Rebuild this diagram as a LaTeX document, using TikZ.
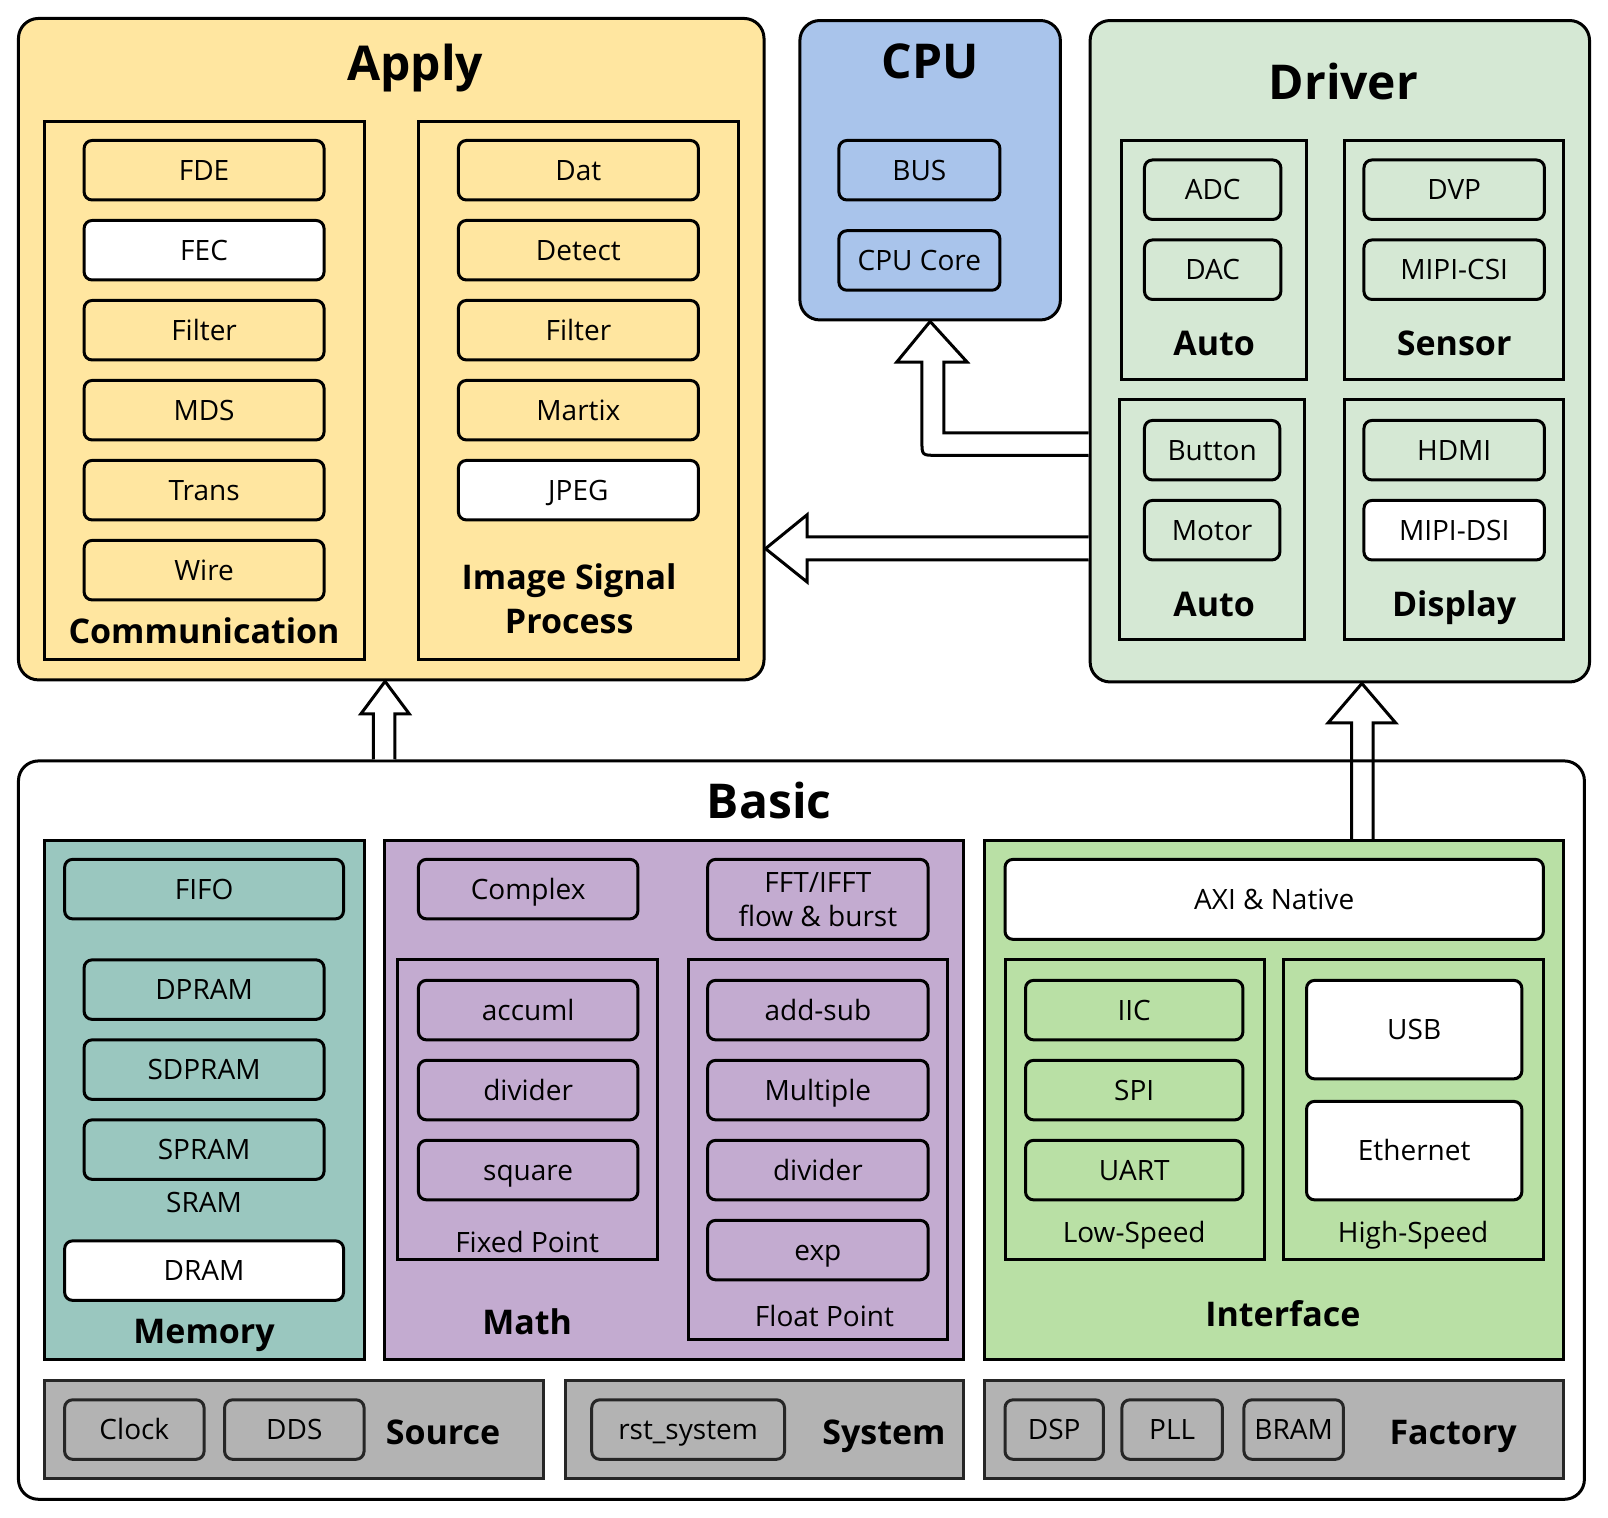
\documentclass[tikz,border=0pt]{standalone}
\usepackage{fontspec}
\setmainfont{Open Sans}
\usetikzlibrary{fit}
\definecolor{cY}{HTML}{FFE6A0}
\definecolor{cB}{HTML}{A9C4EB}
\definecolor{cG}{HTML}{D5E8D4}
\definecolor{cT}{HTML}{9AC7BF}
\definecolor{cP}{HTML}{C3ABD0}
\definecolor{cL}{HTML}{B9E0A5}
\definecolor{cS}{HTML}{B3B3B3}
\tikzset{
  base/.style={draw=black, line width=1.5pt, inner sep=0pt},
  outer/.style={base, rounded corners=10pt},
  grp/.style={base, sharp corners},
  sbox/.style={base, rounded corners=4pt},
  ttl/.style={font=\fontsize{24}{28}\selectfont\bfseries, inner sep=0pt, text height=17pt, text depth=0pt},
  sec/.style={font=\fontsize{17}{22}\selectfont\bfseries, align=center, inner sep=0pt, text height=12pt, text depth=0pt},
  secm/.style={font=\fontsize{17}{22}\selectfont\bfseries, align=center},
  lbl/.style={font=\fontsize{14}{17}\selectfont, align=center, inner sep=0pt, text height=10pt, text depth=0pt},
  lblm/.style={font=\fontsize{14}{17}\selectfont, align=center, inner sep=0pt},
  harrow/.style={draw=black, line width=1.5pt, fill=white, line join=miter},
}
\newcommand\BX[7]{\node[#1, fit={(#3,#4)(#5,#6)}] (#2) {};
  \node[lbl] (#2-t) at (#2.center) {#7};}
\begin{document}
\begin{tikzpicture}[x=0.51276pt,y=-0.51276pt]
\useasboundingbox (0,0) rectangle (1568,1480);
% ---------------- Apply
\BX{outer,fill=cY}{apply}{18}{18}{745}{663}{}
\node[ttl] (applyT) at (405,62) {Apply};
\BX{grp}{comm}{43}{118}{355}{643}{}
\BX{sbox,fill=cY}{fde}{82}{137}{316}{195}{FDE}
\BX{sbox,fill=white}{fec}{82}{215}{316}{273}{FEC}
\BX{sbox,fill=cY}{filtA}{82}{293}{316}{351}{Filter}
\BX{sbox,fill=cY}{mds}{82}{371}{316}{429}{MDS}
\BX{sbox,fill=cY}{trans}{82}{449}{316}{507}{Trans}
\BX{sbox,fill=cY}{wire}{82}{527}{316}{585}{Wire}
\node[sec] (commL) at (199,616) {Communication};
\BX{grp}{isp}{408}{118}{720}{643}{}
\BX{sbox,fill=cY}{dat}{447}{137}{681}{195}{Dat}
\BX{sbox,fill=cY}{detect}{447}{215}{681}{273}{Detect}
\BX{sbox,fill=cY}{filtB}{447}{293}{681}{351}{Filter}
\BX{sbox,fill=cY}{martix}{447}{371}{681}{429}{Martix}
\BX{sbox,fill=white}{jpeg}{447}{449}{681}{507}{JPEG}
\node[secm] (ispL) at (555,584) {Image Signal\\Process};
% ---------------- CPU
\BX{outer,fill=cB}{cpu}{780}{20}{1034}{312}{}
\node[ttl] (cpuT) at (907,60) {CPU};
\BX{sbox,fill=cB}{bus}{818}{137}{975}{195}{BUS}
\BX{sbox,fill=cB}{core}{818}{225}{975}{283}{CPU Core}
% ---------------- Driver
\BX{outer,fill=cG}{driver}{1063}{20}{1550}{665}{}
\node[ttl] (driverT) at (1310,80) {Driver};
\BX{grp}{autoA}{1094}{137}{1274}{370}{}
\BX{sbox,fill=cG}{adc}{1116}{156}{1249}{214}{ADC}
\BX{sbox,fill=cG}{dac}{1116}{234}{1249}{292}{DAC}
\node[sec] (autoAL) at (1184,335) {Auto};
\BX{grp}{sensor}{1311}{137}{1525}{370}{}
\BX{sbox,fill=cG}{dvp}{1330}{156}{1506}{214}{DVP}
\BX{sbox,fill=cG}{csi}{1330}{234}{1506}{292}{MIPI-CSI}
\node[sec] (sensorL) at (1418,335) {Sensor};
\BX{grp}{autoB}{1092}{390}{1272}{624}{}
\BX{sbox,fill=cG}{button}{1116}{410}{1248}{468}{Button}
\BX{sbox,fill=cG}{motor}{1116}{488}{1248}{546}{Motor}
\node[sec] (autoBL) at (1184,589) {Auto};
\BX{grp}{display}{1311}{390}{1525}{624}{}
\BX{sbox,fill=cG}{hdmi}{1330}{410}{1506}{468}{HDMI}
\BX{sbox,fill=white}{dsi}{1330}{488}{1506}{546}{MIPI-DSI}
\node[sec] (displayL) at (1418,589) {Display};
% ---------------- Basic
\BX{outer,fill=white}{basic}{18}{742}{1545}{1462}{}
\node[ttl] (basicT) at (750,782) {Basic};
% Memory
\BX{grp,fill=cT}{memory}{43}{820}{355}{1326}{}
\BX{sbox,fill=cT}{fifo}{63}{838}{335}{896}{FIFO}
\BX{sbox,fill=cT}{dpram}{82}{936}{316}{994}{DPRAM}
\BX{sbox,fill=cT}{sdpram}{82}{1014}{316}{1072}{SDPRAM}
\BX{sbox,fill=cT}{spram}{82}{1092}{316}{1150}{SPRAM}
\node[lbl] (sramL) at (199,1173) {SRAM};
\BX{sbox,fill=white}{dram}{63}{1210}{335}{1268}{DRAM}
\node[sec] (memL) at (199,1298) {Memory};
% Math
\BX{grp,fill=cP}{math}{375}{820}{940}{1326}{}
\BX{sbox,fill=cP}{complex}{408}{838}{622}{896}{Complex}
\node[sbox,fill=cP, fit={(690,838)(905,916)}] (fft) {};
\node[lblm] (fft-t) at (fft.center) {FFT/IFFT\\flow \& burst};
\BX{grp}{fixed}{388}{936}{641}{1228}{}
\BX{sbox,fill=cP}{accuml}{408}{956}{622}{1014}{accuml}
\BX{sbox,fill=cP}{divA}{408}{1034}{622}{1092}{divider}
\BX{sbox,fill=cP}{square}{408}{1112}{622}{1170}{square}
\node[lbl] (fixedL) at (514,1212) {Fixed Point};
\BX{grp}{float}{671}{936}{924}{1306}{}
\BX{sbox,fill=cP}{addsub}{690}{956}{905}{1014}{add-sub}
\BX{sbox,fill=cP}{mult}{690}{1034}{905}{1092}{Multiple}
\BX{sbox,fill=cP}{divB}{690}{1112}{905}{1170}{divider}
\BX{sbox,fill=cP}{exp}{690}{1190}{905}{1248}{exp}
\node[lbl] (floatL) at (804,1284) {Float Point};
\node[sec] (mathL) at (514,1290) {Math};
% Interface
\BX{grp,fill=cL}{iface}{960}{820}{1525}{1326}{}
\BX{sbox,fill=white}{axi}{980}{838}{1505}{916}{AXI \& Native}
\BX{grp}{low}{980}{936}{1233}{1228}{}
\BX{sbox,fill=cL}{iic}{1000}{956}{1212}{1014}{IIC}
\BX{sbox,fill=cL}{spi}{1000}{1034}{1212}{1092}{SPI}
\BX{sbox,fill=cL}{uart}{1000}{1112}{1212}{1170}{UART}
\node[lbl] (lowL) at (1106,1202) {Low-Speed};
\BX{grp}{high}{1252}{936}{1505}{1228}{}
\BX{sbox,fill=white}{usb}{1274}{956}{1484}{1052}{USB}
\BX{sbox,fill=white}{eth}{1274}{1074}{1484}{1170}{Ethernet}
\node[lbl] (highL) at (1378,1202) {High-Speed};
\node[sec] (ifaceL) at (1251,1282) {Interface};
% Gray row
\BX{grp,fill=cS,draw=black!85}{source}{43}{1346}{530}{1442}{}
\BX{sbox,fill=cS,draw=black!85}{clock}{63}{1365}{199}{1423}{Clock}
\BX{sbox,fill=cS,draw=black!85}{dds}{219}{1365}{355}{1423}{DDS}
\node[sec] (sourceL) at (432,1397) {Source};
\BX{grp,fill=cS,draw=black!85}{system}{551}{1346}{940}{1442}{}
\BX{sbox,fill=cS,draw=black!85}{rst}{577}{1365}{765}{1423}{rst\_system}
\node[sec] (systemL) at (862,1397) {System};
\BX{grp,fill=cS,draw=black!85}{factory}{960}{1346}{1525}{1442}{}
\BX{sbox,fill=cS,draw=black!85}{dsp}{980}{1365}{1076}{1423}{DSP}
\BX{sbox,fill=cS,draw=black!85}{pll}{1094}{1365}{1192}{1423}{PLL}
\BX{sbox,fill=cS,draw=black!85}{bram}{1213}{1365}{1310}{1423}{BRAM}
\node[sec] (factoryL) at (1417,1397) {Factory};
% ---------------- Block arrows
% Driver -> CPU
\draw[harrow] (driver.west |- 0,422) -- (920.5,422) -- (920.5,353) -- (943,353)
  -- (cpu.south -| 907,0) -- (874.5,353) -- (899,353) -- (899,430)
  .. controls (899,444) .. (913,444) -- (driver.west |- 0,444);
% Driver -> Apply
\draw[harrow] (driver.west |- 0,523.5) -- (787,523.5) -- (787,502)
  -- (apply.east |- 0,535) -- (787,567.5) -- (787,546) -- (driver.west |- 0,546);
% Basic -> Apply
\draw[harrow] (basic.north -| 364,0) -- (364,696) -- (352,696)
  -- (apply.south -| 375.5,0) -- (399,696) -- (385,696) -- (basic.north -| 385,0);
% Interface -> Driver
\draw[harrow,fill=none] (iface.north -| 1318,0) -- (1318,705) -- (1295,705)
  -- (driver.south -| 1328,0) -- (1361,705) -- (1339,705) -- (iface.north -| 1339,0);
\end{tikzpicture}
\end{document}
